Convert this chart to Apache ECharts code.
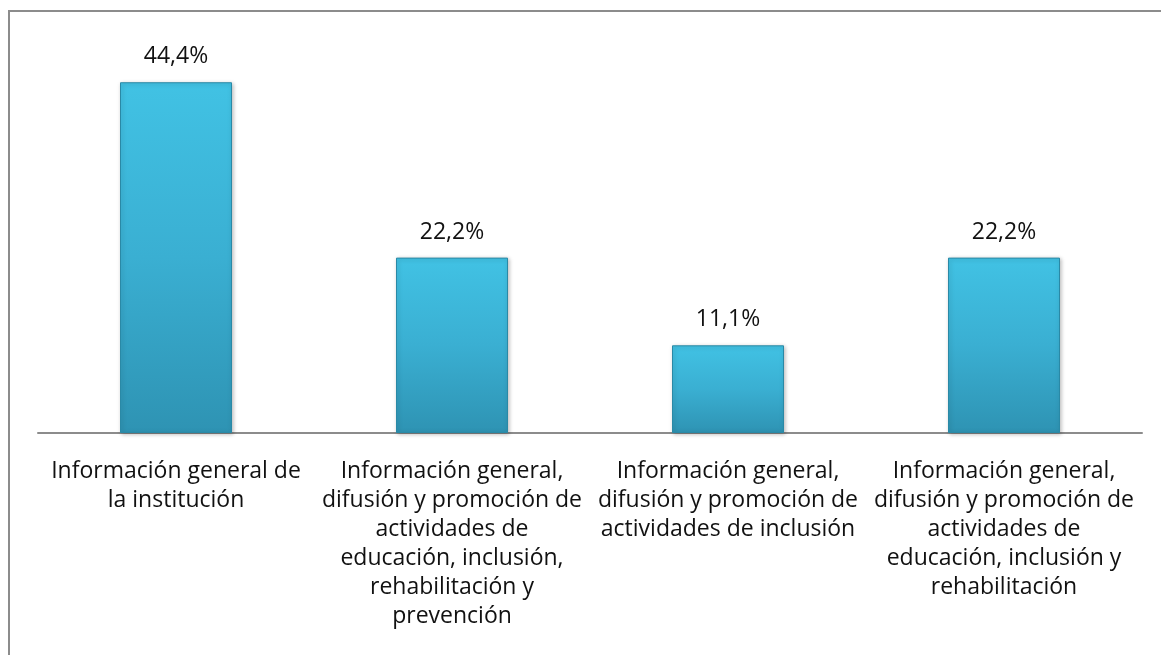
<!DOCTYPE html>
<html>
<head>
<meta charset="utf-8">
<script src="https://cdn.jsdelivr.net/npm/echarts@6/dist/echarts.min.js"></script>
<style>
  html, body { margin: 0; padding: 0; background: #fff; }
  #frame { position: absolute; left: 8px; top: 10px; width: 1153px; height: 645px;
           border-top: 2px solid #8c8c8c; border-left: 2px solid #8c8c8c; box-sizing: border-box; }
  #main { position: absolute; left: 0; top: 0; width: 1161px; height: 655px; }
</style>
</head>
<body>
<div id="frame"></div>
<div id="main"></div>
<script>
// categorias (saltos de linea como en el original)
const categories = [
  'Información general de\nla institución',
  'Información general,\ndifusión y promoción de\nactividades de\neducación, inclusión,\nrehabilitación y\nprevención',
  'Información general,\ndifusión y promoción de\nactividades de inclusión',
  'Información general,\ndifusión y promoción de\nactividades de\neducación, inclusión y\nrehabilitación'
];
const values = [44.4, 22.2, 11.1, 22.2];

let chart = echarts.init(document.getElementById('main'), null, { renderer: 'canvas' });

const barColor = new echarts.graphic.LinearGradient(0, 0, 0, 1, [
  { offset: 0, color: '#41c2e4' },
  { offset: 0.5, color: '#3aafd2' },
  { offset: 1, color: '#2e93b3' }
]);

const option = {
  animation: false,
  grid: { left: 38, right: 19, top: 38, bottom: 222, containLabel: false },
  xAxis: {
    type: 'category',
    data: categories,
    axisTick: { show: false },
    axisLine: { lineStyle: { color: '#8c8c8c', width: 2 } },
    axisLabel: {
      interval: 0,
      margin: 24,
      color: '#111',
      fontSize: 23,
      lineHeight: 29,
      fontFamily: '"Open Sans", sans-serif',
      align: 'center'
    }
  },
  yAxis: {
    type: 'value',
    min: 0,
    max: 50,
    show: false
  },
  series: [{
    type: 'bar',
    data: values,
    barWidth: 112,
    itemStyle: {
      color: barColor,
      borderColor: '#2a89a6',
      borderWidth: 1,
      shadowColor: 'rgba(0,0,0,0.25)',
      shadowBlur: 4,
      shadowOffsetX: 1,
      shadowOffsetY: 1
    },
    label: {
      show: true,
      position: 'top',
      distance: 14,
      color: '#111',
      fontSize: 23,
      fontFamily: '"Open Sans", sans-serif',
      formatter: p => p.value.toFixed(1).replace('.', ',') + '%'
    }
  }]
};

chart.setOption(option);
</script>
</body>
</html>
